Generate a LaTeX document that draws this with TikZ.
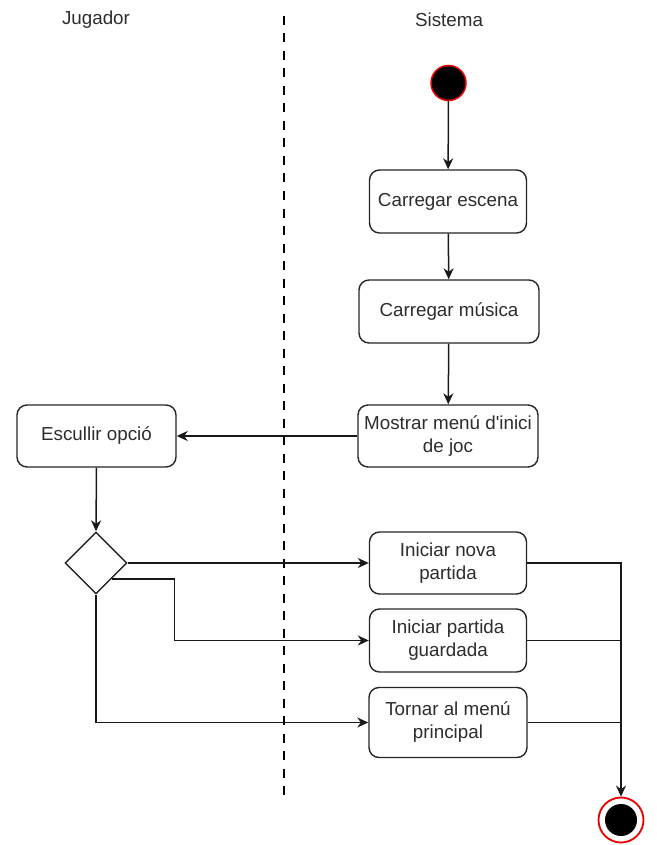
\documentclass[tikz,border=0pt]{standalone}
\usepackage{fontspec}
\setmainfont{Liberation Sans}
\usetikzlibrary{arrows.meta,shapes.geometric}
\definecolor{txt}{RGB}{45,45,45}
\definecolor{ringred}{RGB}{235,0,0}
\begin{document}
\begin{tikzpicture}[x=1pt,y=-1pt,
  font=\fontsize{18.8}{23}\selectfont,
  every node/.style={text=txt},
  action/.style={draw=black!85, line width=1.4pt, rounded corners=10pt, fill=white,
    align=center, inner sep=2pt},
  flow/.style={draw=black!90, line width=1.5pt},
  arr/.style={flow, -{Stealth[length=11pt,width=10pt,inset=3.5pt]}},
  lane/.style={line width=2.8pt, dash pattern=on 9pt off 8.5pt}
]
\useasboundingbox (0,0) rectangle (656,845);

% lane titles and separator
\node (jug) at (96,20) {Jugador};
\node (sis) at (449,20) {Sistema};
\coordinate (laneTop) at (284,16);
\coordinate (laneBot) at (284,799);
\draw[lane] (laneTop) -- (laneBot);

% start and end states
\node[circle, draw=ringred, fill=black, line width=1.5pt, minimum size=35pt, inner sep=0pt] (ini) at (448.5,83) {};
\node[circle, draw=ringred, fill=white, line width=1.8pt, minimum size=45pt, inner sep=0pt] (fin) at (621,820) {};
\fill[black] (fin.center) circle (16);

% actions
\node[action, minimum width=157pt, minimum height=63pt] (escena) at (448,201.5) {Carregar escena};
\node[action, minimum width=180pt, minimum height=63pt] (musica) at (449,311.5) {Carregar música};
\node[action, minimum width=180pt, minimum height=62pt] (menu) at (448,436) {Mostrar menú d\textquotesingle inici\\de joc};
\node[action, minimum width=159pt, minimum height=62pt] (opcio) at (96.5,436) {Escullir opció};
\node[action, minimum width=157pt, minimum height=62pt] (nova) at (448,563) {Iniciar nova\\partida};
\node[action, minimum width=157pt, minimum height=63pt] (guard) at (448,640.5) {Iniciar partida\\guardada};
\node[action, minimum width=158pt, minimum height=70pt] (tornar) at (448,722.5) {Tornar al menú\\principal};

% decision
\node[diamond, draw=black!85, line width=1.4pt, fill=white, minimum width=62pt, minimum height=62pt, inner sep=0pt] (dec) at (96,563) {};

% flow
\draw[arr] (ini) -- (escena);
\draw[arr] (escena) -- (musica);
\draw[arr] (musica) -- (menu);
\draw[arr] (menu.west) -- (opcio.east);
\draw[arr] (opcio.south) -- (dec.north);
\draw[arr] (dec.east) -- (nova.west);
\draw[arr] (dec.south east) -- ++(62.5,0) |- (guard.west);
\draw[arr] (dec.south) |- (tornar.west);
\draw[arr] (nova.east) -| (fin.north);
\draw[flow] (guard.east) -- (guard.east -| fin.north);
\draw[flow] (tornar.east) -- (tornar.east -| fin.north);
\end{tikzpicture}
\end{document}
